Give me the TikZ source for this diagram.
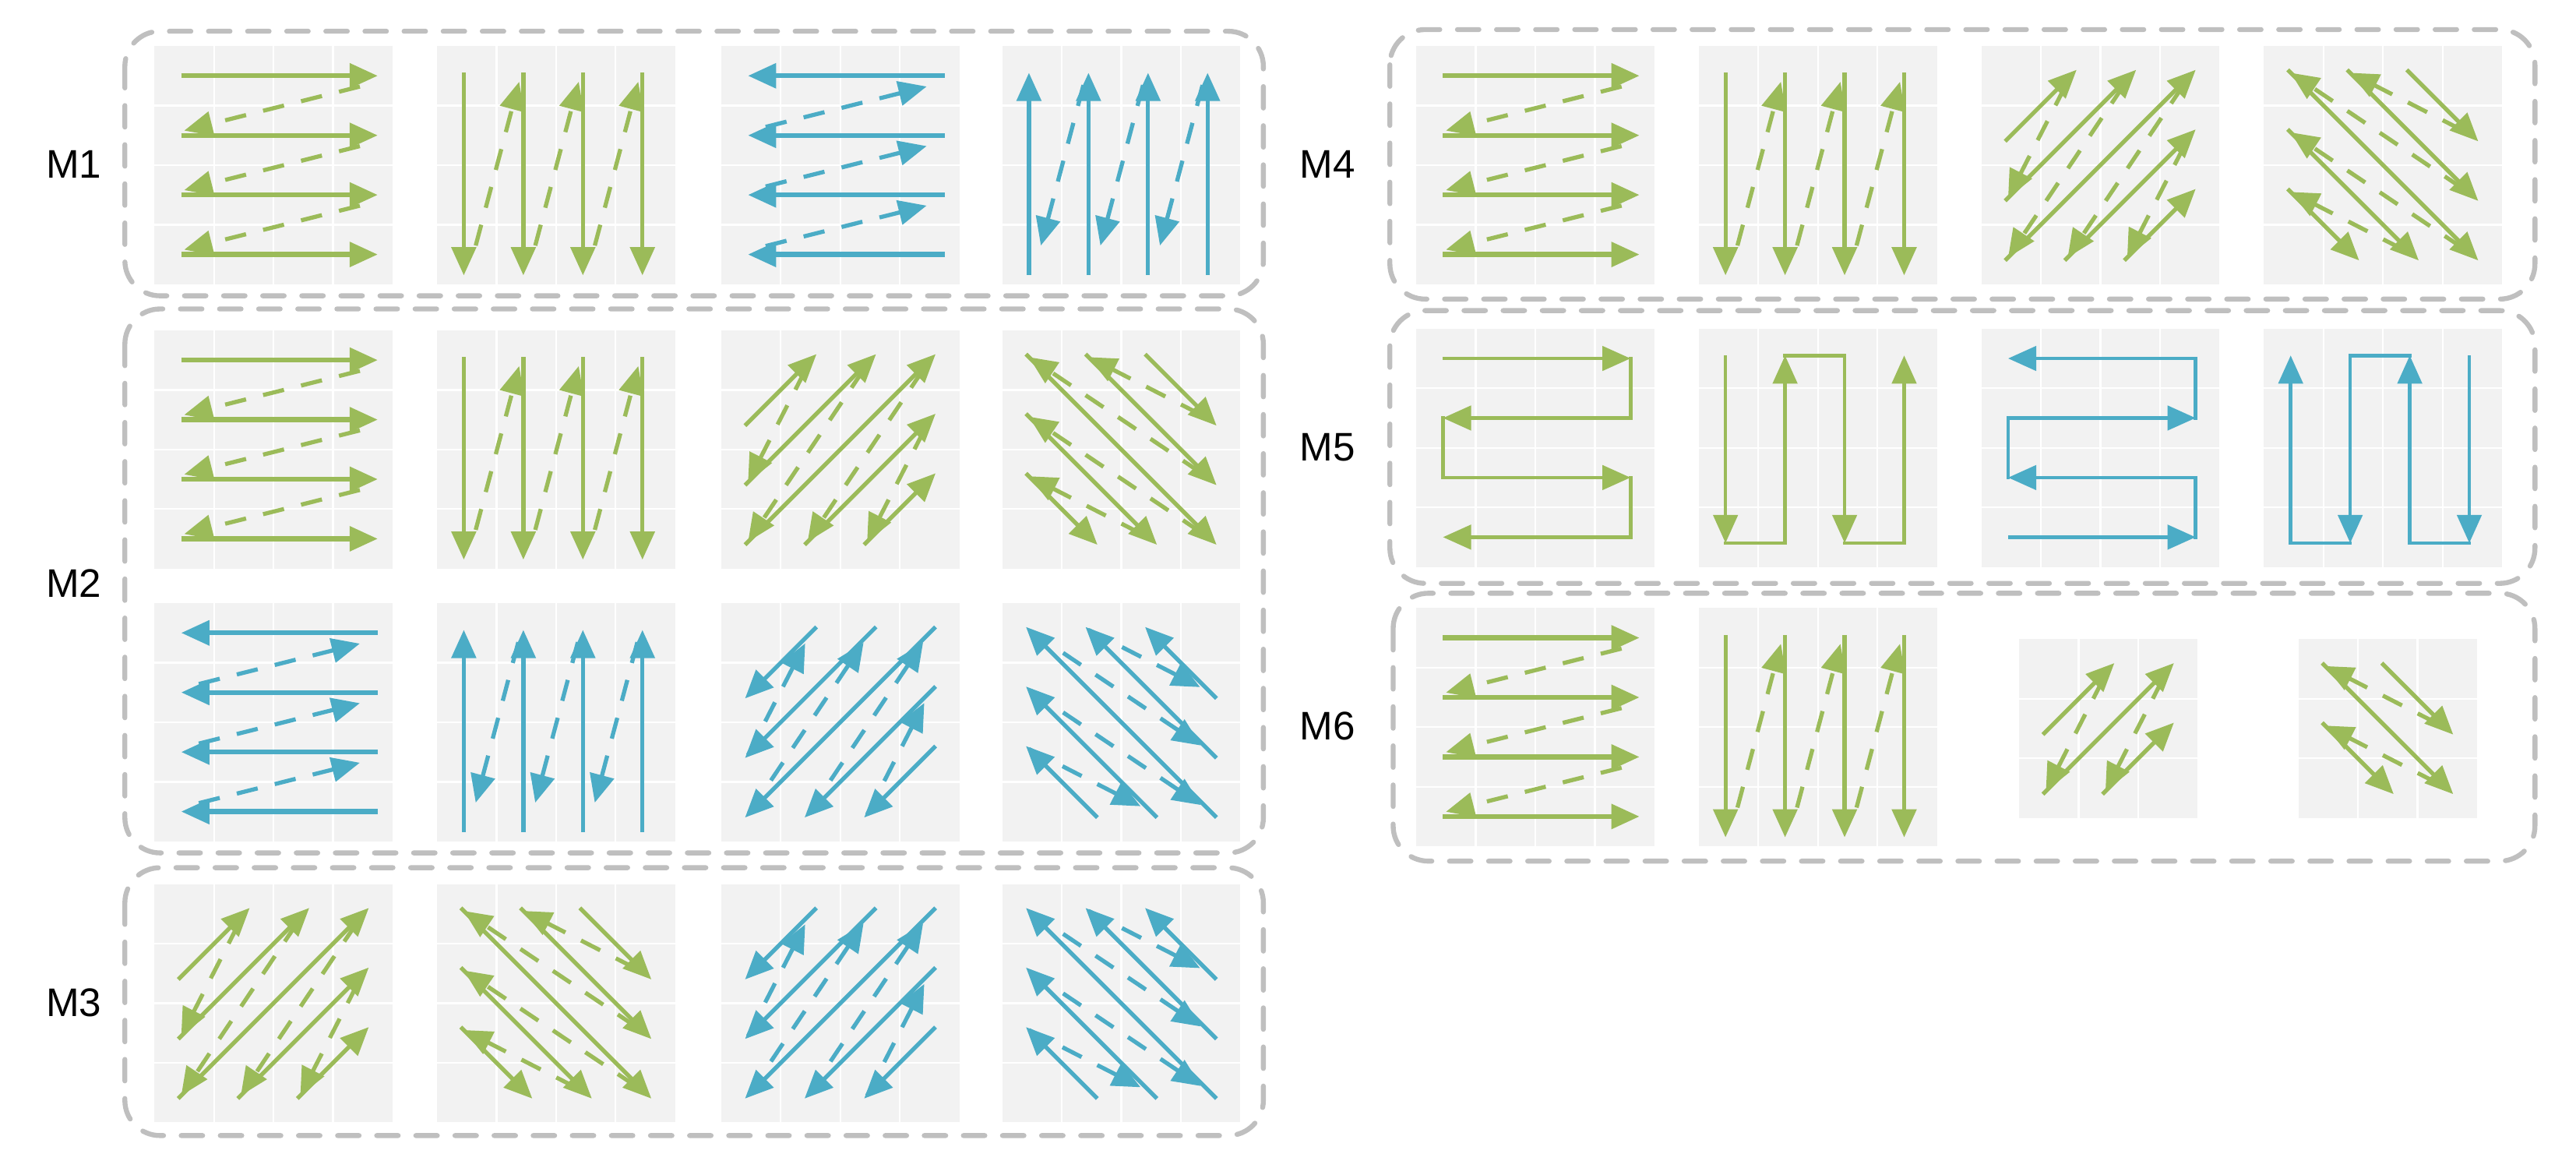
\documentclass[tikz,border=0pt]{standalone}
\usepackage{fontspec}
\setmainfont{Liberation Sans}
\usetikzlibrary{arrows.meta}
\definecolor{cg}{RGB}{155,187,89}
\definecolor{cb}{RGB}{75,172,198}
\definecolor{pbg}{RGB}{242,242,242}
\definecolor{bx}{RGB}{191,191,191}
\tikzset{
 gr/.style={cg, sarr/.style={-{Triangle[length=0.72cm,width=0.62cm]}}},
 bl/.style={cb, sarr/.style={{Triangle[length=0.72cm,width=0.62cm]}-}},
 sl/.style={sarr, line width=3pt},
 dl/.style={sarr, line width=3pt, dash pattern=on 0.55cm off 0.45cm},
 thick row/.style={line width=3.6pt},
 pl/.style={line width=2.6pt, line cap=rect},
 box/.style={draw=bx, line width=3.6pt, rounded corners=0.9cm, dash pattern=on 0.55cm off 0.45cm, line cap=round},
 lab/.style={font=\fontsize{29}{33}\selectfont, text=black}
}
\newcommand\pnl[5]{%
\begin{scope}[shift={(#1,#2)},x=1.5225cm,y=-1.5225cm]
\fill[pbg] (0,0) rectangle (#3,#3);
\pgfmathtruncatemacro\nn{#3-1}
\foreach \ii in {1,...,\nn}{\draw[white,line width=1.3pt] (\ii,0)--(\ii,#3) (0,\ii)--(#3,\ii);}
\begin{scope}[#4]#5\end{scope}
\end{scope}}
\newcommand\prows{%
 \foreach \rr in {0,...,3}{\draw[sl,thick row] (0.45,\rr+0.5)--(3.75,\rr+0.5);}
 \foreach \rr in {0,1,2}{\draw[dl] (3.45,\rr+0.68)--(0.5,\rr+1.42);}}
\newcommand\pcols{%
 \foreach \cc in {0,...,3}{\draw[sl] (\cc+0.45,0.45)--(\cc+0.45,3.85);}
 \foreach \cc in {0,1,2}{\draw[dl] (\cc+0.65,3.35)--(\cc+1.38,0.6);}}
\newcommand\psrows{%
 \foreach \rr in {0,...,3}{\ifodd\rr \draw[sl,line width=2.6pt] (3.6,\rr+0.5)--(0.45,\rr+0.5);\else \draw[sl,line width=2.6pt] (0.45,\rr+0.5)--(3.6,\rr+0.5);\fi}
 \draw[pl] (3.6,0.5)--(3.6,1.5) (0.45,1.5)--(0.45,2.5) (3.6,2.5)--(3.6,3.5);}
\newcommand\pscols{%
 \foreach \cc in {0,...,3}{\ifodd\cc \draw[sl,line width=2.6pt] (\cc+0.45,3.6)--(\cc+0.45,0.45);\else \draw[sl,line width=2.6pt] (\cc+0.45,0.45)--(\cc+0.45,3.6);\fi}
 \draw[pl] (0.45,3.6)--(1.45,3.6) (1.45,0.45)--(2.45,0.45) (2.45,3.6)--(3.45,3.6);}
\newcommand\pdiag[1]{%
 \pgfmathtruncatemacro\mx{2*#1-3}
 \foreach \dd in {1,...,\mx}{
  \pgfmathtruncatemacro\rs{min(\dd,#1-1)}\pgfmathtruncatemacro\cs{\dd-\rs}
  \pgfmathtruncatemacro\ce{min(\dd,#1-1)}\pgfmathtruncatemacro\re{\dd-\ce}
  \draw[sl] (\cs+0.4,\rs+0.6)--(\ce+0.6,\re+0.4);
  \ifnum\dd<\mx
   \pgfmathtruncatemacro\rsn{min(\dd+1,#1-1)}\pgfmathtruncatemacro\csn{\dd+1-\rsn}
   \draw[dl,shorten <=0.3cm] (\ce+0.5,\re+0.5)--(\csn+0.45,\rsn+0.55);
  \fi}}
\newcommand\pdiagb[1]{%
 \pgfmathtruncatemacro\mx{2*#1-4}
 \foreach \ii in {0,...,\mx}{
  \pgfmathtruncatemacro\kk{#1-2-\ii}
  \pgfmathtruncatemacro\rs{max(-\kk,0)}\pgfmathtruncatemacro\cs{max(\kk,0)}
  \pgfmathtruncatemacro\ce{min(#1-1,#1-1+\kk)}\pgfmathtruncatemacro\re{min(#1-1,#1-1-\kk)}
  \draw[sl] (\cs+0.4,\rs+0.4)--(\ce+0.6,\re+0.6);
  \ifnum\ii<\mx
   \pgfmathtruncatemacro\rsn{max(-\kk+1,0)}\pgfmathtruncatemacro\csn{max(\kk-1,0)}
   \draw[dl,shorten <=0.3cm] (\ce+0.5,\re+0.5)--(\csn+0.45,\rsn+0.45);
  \fi}}
\begin{document}
\begin{tikzpicture}[x=0.042cm,y=-0.042cm]
\useasboundingbox (0,0) rectangle (1568,715);
% boxes
\draw[box] (76,19) rectangle (769,180);
\draw[box] (76,188) rectangle (769,519);
\draw[box] (76,528) rectangle (769,691);
\draw[box] (846,18) rectangle (1543,182);
\draw[box] (846,189) rectangle (1543,355);
\draw[box] (848,361) rectangle (1543,524);
% labels
\node[lab] (m1) at (45,100) {M1};
\node[lab] (m2) at (45,355) {M2};
\node[lab] (m3) at (45,610) {M3};
\node[lab] (m4) at (808,100) {M4};
\node[lab] (m5) at (808,272) {M5};
\node[lab] (m6) at (808,442) {M6};
% M1
\pnl{94}{28}{4}{gr}{\prows}
\pnl{266}{28}{4}{gr}{\pcols}
\pnl{439}{28}{4}{bl}{\prows}
\pnl{610}{28}{4}{bl}{\pcols}
% M2
\pnl{94}{201}{4}{gr}{\prows}
\pnl{266}{201}{4}{gr}{\pcols}
\pnl{439}{201}{4}{gr}{\pdiag{4}}
\pnl{610}{201}{4}{gr}{\pdiagb{4}}
\pnl{94}{367}{4}{bl}{\prows}
\pnl{266}{367}{4}{bl}{\pcols}
\pnl{439}{367}{4}{bl}{\pdiag{4}}
\pnl{610}{367}{4}{bl}{\pdiagb{4}}
% M3
\pnl{94}{538}{4}{gr}{\pdiag{4}}
\pnl{266}{538}{4}{gr}{\pdiagb{4}}
\pnl{439}{538}{4}{bl}{\pdiag{4}}
\pnl{610}{538}{4}{bl}{\pdiagb{4}}
% M4
\pnl{862}{28}{4}{gr}{\prows}
\pnl{1034}{28}{4}{gr}{\pcols}
\pnl{1206}{28}{4}{gr}{\pdiag{4}}
\pnl{1378}{28}{4}{gr}{\pdiagb{4}}
% M5
\pnl{862}{200}{4}{gr}{\psrows}
\pnl{1034}{200}{4}{gr}{\pscols}
\pnl{1206}{200}{4}{bl}{\psrows}
\pnl{1378}{200}{4}{bl}{\pscols}
% M6
\pnl{862}{370}{4}{gr}{\prows}
\pnl{1034}{370}{4}{gr}{\pcols}
\pnl{1229}{389}{3}{gr}{\pdiag{3}}
\pnl{1399}{389}{3}{gr}{\pdiagb{3}}
\end{tikzpicture}
\end{document}
